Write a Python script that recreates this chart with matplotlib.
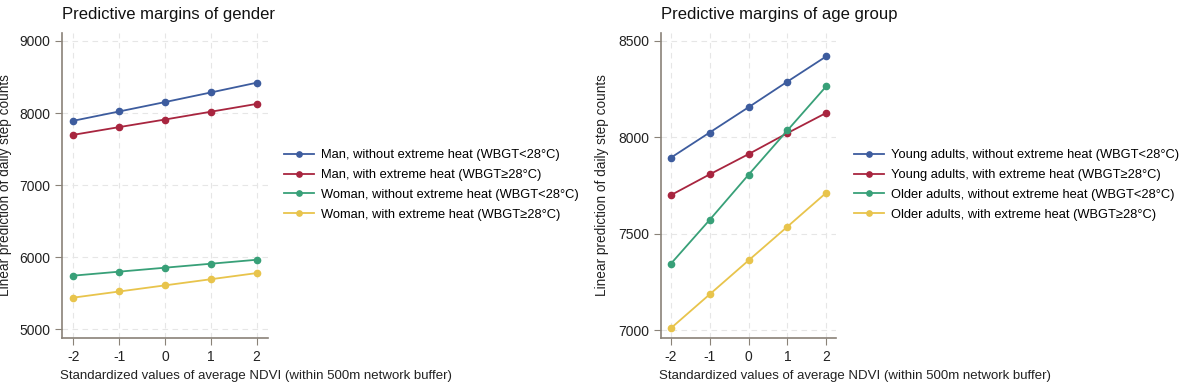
import matplotlib.pyplot as plt

plt.rcParams['font.family'] = ['Liberation Sans', 'DejaVu Sans']

ndvi = [-2, -1, 0, 1, 2]

# gender panel
man_no_heat = [7893, 8022, 8152, 8285, 8420]
man_heat = [7698, 7805, 7910, 8018, 8126]
woman_no_heat = [5745, 5800, 5855, 5910, 5965]
woman_heat = [5440, 5525, 5610, 5695, 5780]
gender_labels = ['Man, without extreme heat (WBGT<28°C)',
                 'Man, with extreme heat (WBGT≥28°C)',
                 'Woman, without extreme heat (WBGT<28°C)',
                 'Woman, with extreme heat (WBGT≥28°C)']

# age group panel
young_no_heat = [7893, 8024, 8155, 8288, 8419]
young_heat = [7699, 7807, 7912, 8021, 8126]
older_no_heat = [7343, 7571, 7805, 8035, 8264]
older_heat = [7009, 7185, 7361, 7536, 7712]
age_labels = ['Young adults, without extreme heat (WBGT<28°C)',
              'Young adults, with extreme heat (WBGT≥28°C)',
              'Older adults, without extreme heat (WBGT<28°C)',
              'Older adults, with extreme heat (WBGT≥28°C)']

colors = ['#3d5c9e', '#a8253f', '#38a078', '#e8c44c']
W, H = 1181, 384

fig = plt.figure(figsize=(W / 100, H / 100), dpi=100)


def panel(left, right, series, labels, yticks, ylim, title, leg_x, ylab_x):
    ax = fig.add_axes([left / W, 1 - 338 / H, (right - left) / W, (338 - 33) / H])
    for s, lab, c in zip(series, labels, colors):
        ax.plot(ndvi, s, color=c, lw=1.3, marker='o', ms=4.5, label=lab)
    ax.set_xlim(-2.25, 2.25)
    ax.set_ylim(*ylim)
    ax.set_xticks(ndvi)
    ax.set_xticklabels(['-2', '-1', '0', '1', '2'])
    ax.set_yticks(yticks)
    ax.grid(True, ls=(0, (5, 4)), color='#e6e6e6', lw=0.8)
    ax.set_axisbelow(True)
    for sp in ['top', 'right']:
        ax.spines[sp].set_visible(False)
    for sp in ['left', 'bottom']:
        ax.spines[sp].set_color('#8a8278')
        ax.spines[sp].set_linewidth(1.2)
    ax.tick_params(colors='#8a8278', labelcolor='#222222', labelsize=10, length=5)
    ax.set_ylabel('Linear prediction of daily step counts', fontsize=9.8, color='#222222')
    ax.yaxis.set_label_coords((ylab_x - left) / (right - left), 0.5)
    fig.text(left / W, 1 - 14 / H, title, fontsize=12, color='#111111', va='center', ha='left')
    fig.text((left - 2) / W, 1 - 376 / H,
             'Standardized values of average NDVI (within 500m network buffer)',
             fontsize=9.5, color='#222222', va='center', ha='left')
    ax.legend(loc='center left', bbox_to_anchor=(leg_x / W, 1 - 185 / H),
              bbox_transform=fig.transFigure, frameon=False, fontsize=9.3,
              handlelength=2.3, handletextpad=0.5, labelspacing=0.6, borderpad=0,
              markerscale=0.85)
    return ax


panel(62, 268, [man_no_heat, man_heat, woman_no_heat, woman_heat], gender_labels,
      [5000, 6000, 7000, 8000, 9000], (4880, 9110), 'Predictive margins of gender', 278, 12)
panel(661, 836, [young_no_heat, young_heat, older_no_heat, older_heat], age_labels,
      [7000, 7500, 8000, 8500], (6959, 8540), 'Predictive margins of age group', 848, 609)

fig.savefig('out.png', dpi=100)
